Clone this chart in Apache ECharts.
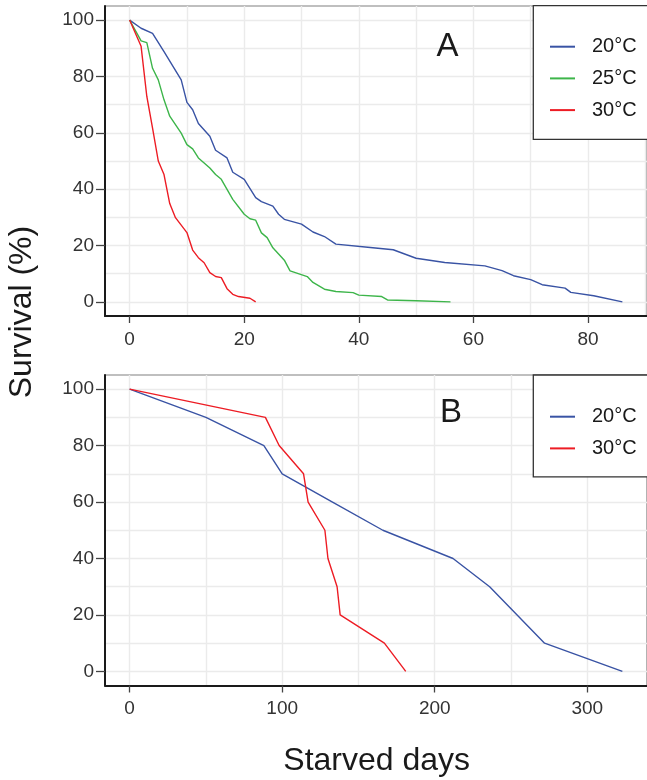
<!DOCTYPE html>
<html>
<head>
<meta charset="utf-8">
<script src="https://cdn.jsdelivr.net/npm/echarts@6/dist/echarts.min.js"></script>
<style>
html,body{margin:0;padding:0;background:#fff;}
#chart{width:647px;height:780px;}
</style>
</head>
<body>
<div id="chart"></div>
<script>
// ---------- DATA ----------
// Panel A
const daysA20 = [0,2,4,6,9,10,11,12,14,15,17,18,20,22,23,25,26,27,30,32,34,36,42,46,50,55,62,65,67,70,72,76,77,81,86];
const survA20 = [100,97.1,95.3,88.8,78.8,70.8,68.2,63.3,58.8,53.8,51.1,46.0,43.5,37.0,35.6,34.0,31.1,29.3,27.6,24.8,23.2,20.5,19.3,18.5,15.5,14.0,12.8,11.1,9.3,7.9,6.1,4.9,3.4,2.2,0];
const daysA25 = [0,2,3,4,5,6,7,9,10,11,12,14,15,16,18,20,21,22,23,24,25,27,28,31,32,34,36,39,40,44,45,50,56];
const survA25 = [100,92.6,92.0,82.9,78.8,71.7,65.9,59.9,55.8,54.3,51.1,47.5,45.2,43.5,36.4,31.1,29.5,29.0,24.5,22.8,19.2,14.8,11.0,9.0,6.9,4.5,3.7,3.3,2.4,1.9,0.7,0.4,0];
const daysA30 = [0,2,3,4,5,6,7,8,10,11,12,13,14,15,16,17,18,19,21,22];
const survA30 = [100,90.7,72.9,61.7,50.0,45.2,34.9,29.9,24.6,18.4,15.7,13.9,10.4,9.0,8.6,4.7,2.7,1.9,1.3,0];
// Panel B
const daysB20 = [0,50,88,100,133,166,212,236,254,272,323];
const survB20 = [100,90,80,70,60,50,40,30,20,10,0];
const daysB30 = [0,89,98,114,117,128,130,136,138,167,181];
const survB30 = [100,90,80,70,60,50,40,30,20,10,0];
// Tick labels
const ticksXA = [0,20,40,60,80];
const gridXA = [0,10,20,30,40,50,60,70,80,90];
const ticksXB = [0,100,200,300];
const gridXB = [0,50,100,150,200,250,300];
const ticksY = [0,20,40,60,80,100];
const gridY = [0,10,20,30,40,50,60,70,80,90,100];
const seriesNames = ['20°C','25°C','30°C'];
const panelLabels = ['A','B'];
const xTitle = 'Starved days';
const yTitle = 'Survival (%)';

// ---------- STYLE ----------
const COLORS = {'20°C':'#3953A4','25°C':'#3DB54A','30°C':'#ED1C24'};
const FONT = "'Liberation Sans', Arial, Helvetica, sans-serif";
const zip = (a,b) => a.map((v,i)=>[v,b[i]]);

const chart = echarts.init(document.getElementById('chart'), null, {renderer:'canvas'});

function gridAxisX(gridIndex, min, max, gridVals){
  return {type:'value', gridIndex, min, max, position:'top',
    axisLine:{show:false}, axisTick:{show:false, customValues:gridVals},
    axisLabel:{show:false},
    splitLine:{show:true, lineStyle:{color:'#ebebeb', width:1.4}}};
}
function mainAxisX(gridIndex, min, max, tickVals){
  return {type:'value', gridIndex, min, max, position:'bottom',
    axisLine:{show:true, onZero:false, lineStyle:{color:'#1a1a1a', width:2}},
    axisTick:{show:true, length:7, customValues:tickVals, lineStyle:{color:'#444', width:1.3}},
    axisLabel:{show:true, customValues:tickVals, margin:14, fontSize:19, fontFamily:FONT, color:'#333'},
    splitLine:{show:false}, z:10};
}
function gridAxisY(gridIndex){
  return {type:'value', gridIndex, min:-5, max:105, position:'right',
    axisLine:{show:false}, axisTick:{show:false, customValues:gridY},
    axisLabel:{show:false},
    splitLine:{show:true, lineStyle:{color:'#ebebeb', width:1.4}}};
}
function mainAxisY(gridIndex){
  return {type:'value', gridIndex, min:-5, max:105, position:'left',
    axisLine:{show:true, onZero:false, lineStyle:{color:'#1a1a1a', width:2}},
    axisTick:{show:true, length:9, customValues:ticksY, lineStyle:{color:'#444', width:1.3}},
    axisLabel:{show:true, customValues:ticksY, margin:11, fontSize:19, fontFamily:FONT, color:'#333'},
    splitLine:{show:false}, z:10};
}
function lineSeries(name, xIdx, yIdx, xs, ys){
  return {type:'line', name, xAxisIndex:xIdx, yAxisIndex:yIdx, data:zip(xs,ys),
    showSymbol:false, symbol:'none', lineStyle:{color:COLORS[name], width:1.4},
    itemStyle:{color:COLORS[name]}, animation:false, z:5};
}
function legendBox(top, names, padTop, padBottom){
  return {show:true, orient:'vertical', left:533.3, top, data:names, icon:'rect',
    itemWidth:25, itemHeight:2, itemGap:11.7,
    padding:[padTop, 40, padBottom, 16.7],
    borderColor:'#333', borderWidth:1.3, backgroundColor:'#fff',
    textStyle:{fontSize:20, lineHeight:20, fontFamily:FONT, color:'#1a1a1a', padding:[0,0,0,12]},
    selectedMode:false, z:20};
}

const option = {
  animation:false,
  backgroundColor:'#fff',
  grid:[
    {left:105, top:6, width:546.5, height:310, show:true, borderColor:'#808080', borderWidth:1.2, backgroundColor:'transparent'},
    {left:105, top:375, width:544.7, height:310.5, show:true, borderColor:'#808080', borderWidth:1.2, backgroundColor:'transparent'}
  ],
  xAxis:[
    gridAxisX(0,-4.3,90.3,gridXA), mainAxisX(0,-4.3,90.3,ticksXA),
    gridAxisX(1,-16.15,339.15,gridXB), mainAxisX(1,-16.15,339.15,ticksXB)
  ],
  yAxis:[
    gridAxisY(0), mainAxisY(0),
    gridAxisY(1), mainAxisY(1)
  ],
  legend:[
    legendBox(5.7, seriesNames, 31, 19.3),
    legendBox(375, [seriesNames[0], seriesNames[2]], 31.7, 18.4)
  ],
  series:[
    lineSeries('20°C',1,1,daysA20,survA20),
    lineSeries('25°C',1,1,daysA25,survA25),
    lineSeries('30°C',1,1,daysA30,survA30),
    lineSeries('20°C',3,3,daysB20,survB20),
    lineSeries('30°C',3,3,daysB30,survB30)
  ],
  graphic:[
    {type:'text', x:447.5, y:47, z:30, style:{text:panelLabels[0], fontSize:33, fontFamily:FONT, fill:'#1a1a1a', align:'center', verticalAlign:'middle'}},
    {type:'text', x:451, y:413, z:30, style:{text:panelLabels[1], fontSize:33, fontFamily:FONT, fill:'#1a1a1a', align:'center', verticalAlign:'middle'}},
    {type:'text', x:376.7, y:761, style:{text:xTitle, fontSize:32, fontFamily:FONT, fill:'#1a1a1a', align:'center', verticalAlign:'middle'}},
    {type:'text', x:22, y:312, rotation:Math.PI/2, style:{text:yTitle, fontSize:32, fontFamily:FONT, fill:'#1a1a1a', align:'center', verticalAlign:'middle'}}
  ]
};
chart.setOption(option);
</script>
</body>
</html>
